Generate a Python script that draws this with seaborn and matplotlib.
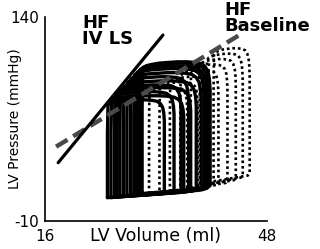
import numpy as np
import pandas as pd
import matplotlib
matplotlib.use("Agg")
import matplotlib.pyplot as plt
import seaborn as sns

# ---------------- data ----------------
# HF IV LS loops (solid)
ls_esv  = [25.0, 25.5, 26.0, 26.4, 26.8, 27.3, 27.8, 28.3, 28.8, 29.2, 29.6, 30.0]
ls_edv  = [33.2, 36.0, 34.6, 37.0, 35.6, 37.8, 36.7, 38.5, 38.9, 39.2, 39.5, 39.8]
ls_peak = [79, 82, 85, 88, 90, 93, 96, 99, 102, 104, 106, 107]
ls_pmin = [7, 7, 7.5, 7.5, 8, 8, 8.5, 8.5, 9, 9, 9.5, 10]
ls_edp  = [10, 11, 10.5, 11.5, 11, 12, 11.5, 12.5, 13, 13, 13.5, 14]

# HF baseline loops (dotted)
bl_esv  = [31.0, 32.5, 34.0, 35.5, 37.0, 38.3, 39.3, 40.3]
bl_edv  = [36.5, 38.0, 39.5, 41.0, 42.3, 43.5, 44.5, 45.5]
bl_peak = [88, 92, 96, 101, 105, 109, 113, 117]
bl_pmin = [10, 11, 12, 13, 14, 16, 17, 19]
bl_edp  = [13, 14, 15, 16.5, 18, 20, 22, 23.5]

# end-systolic pressure-volume relations
espvr_ls_vol  = [17.9, 33.0]
espvr_ls_pres = [32.7, 126.7]
espvr_bl_vol  = [17.6, 44.2]
espvr_bl_pres = [44.5, 127.3]

x_ticks = [16, 24, 32, 40, 48]
x_labels = ["16", "", "", "", "48"]
y_ticks = [-10, 27.5, 65, 102.5, 140]
y_labels = ["-10", "", "", "", "140"]

# normalized loop outline (shape only)
TPL_U = [0.00, 0.05, 0.20, 0.40, 0.60, 0.80, 0.95, 1.00, 1.00, 1.00, 1.00, 0.99, 0.97,
         0.93, 0.87, 0.78, 0.66, 0.52, 0.38, 0.25, 0.14, 0.06, 0.01, 0.00, 0.00, 0.00]
TPL_V = [0.00, 0.00, 0.00, 0.00, 0.00, 0.00, 0.00, 0.02, 0.35, 0.62, 0.78, 0.86, 0.92,
         0.96, 0.985, 0.995, 1.00, 1.00, 0.995, 0.99, 0.98, 0.97, 0.95, 0.65, 0.30, 0.00]


def loops_frame(esv, edv, peak, pmin, edp):
    rows = []
    u = np.array(TPL_U)
    v = np.array(TPL_V)
    for i in range(len(esv)):
        vol = esv[i] + u * (edv[i] - esv[i])
        pres = pmin[i] + (edp[i] - pmin[i]) * u * (1 - v) + v * (peak[i] - pmin[i])
        for k in range(len(u)):
            rows.append({"loop": i, "k": k, "vol": vol[k], "pres": pres[k]})
    return pd.DataFrame(rows)


df_ls = loops_frame(ls_esv, ls_edv, ls_peak, ls_pmin, ls_edp)
df_bl = loops_frame(bl_esv, bl_edv, bl_peak, bl_pmin, bl_edp)
df_esls = pd.DataFrame({"vol": espvr_ls_vol, "pres": espvr_ls_pres})
df_esbl = pd.DataFrame({"vol": espvr_bl_vol, "pres": espvr_bl_pres})

sns.set_style("white")
plt.rcParams["font.family"] = ["DejaVu Sans"]
plt.rcParams["text.color"] = "black"
plt.rcParams["axes.labelcolor"] = "black"

fig = plt.figure(figsize=(3.2, 2.49), dpi=100)
ax = fig.add_axes([0.1406, 0.1137, 0.6938, 0.818])

sns.lineplot(data=df_bl, x="vol", y="pres", units="loop", estimator=None, sort=False,
             color="black", lw=1.9, linestyle=(0, (1, 1.1)), ax=ax)
sns.lineplot(data=df_ls, x="vol", y="pres", units="loop", estimator=None, sort=False,
             color="black", lw=2.4, ax=ax)
sns.lineplot(data=df_esbl, x="vol", y="pres", sort=False, color="#4a4a4a", lw=3.2,
             linestyle=(0, (3, 1.5)), ax=ax)
sns.lineplot(data=df_esls, x="vol", y="pres", sort=False, color="black", lw=2.3, ax=ax)

ax.set_xlim(16, 48)
ax.set_ylim(-10, 140)
ax.set_xticks(x_ticks)
ax.set_xticklabels(x_labels)
ax.set_yticks(y_ticks)
ax.set_yticklabels(y_labels)
ax.tick_params(direction="in", length=4, width=1.0, labelsize=11, colors="black")
ax.tick_params(axis="x", pad=6)
ax.tick_params(axis="y", pad=4)
for s in ["top", "right"]:
    ax.spines[s].set_visible(False)
for s in ["left", "bottom"]:
    ax.spines[s].set_color("black")
    ax.spines[s].set_linewidth(1.2)

ax.set_xlabel("LV Volume (ml)", fontsize=12.5, labelpad=-12)
ax.set_ylabel("LV Pressure (mmHg)", fontsize=10, labelpad=-8)

fig.text(0.256, 0.945, "HF\nIV LS", fontsize=13, fontweight="bold", va="top",
         ha="left", linespacing=0.9)
fig.text(0.70, 0.995, "HF\nBaseline", fontsize=13, fontweight="bold", va="top",
         ha="left", linespacing=0.85)

fig.savefig("out.png", dpi=100)
